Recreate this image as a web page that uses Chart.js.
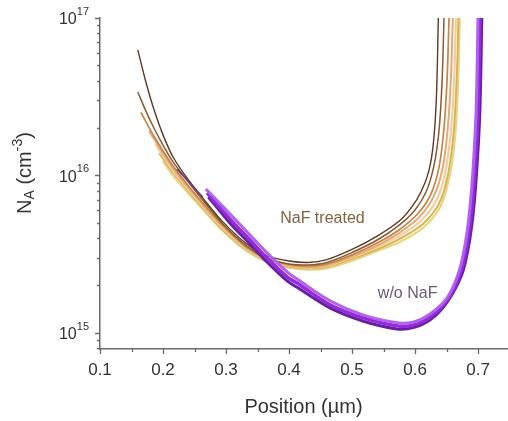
<!DOCTYPE html>
<html>
<head>
<meta charset="utf-8">
<script src="https://cdn.jsdelivr.net/npm/chart.js@4.4.0/dist/chart.umd.min.js"></script>
<style>
  html, body { margin: 0; padding: 0; background: #fff; }
</style>
</head>
<body>
<canvas id="myChart" width="508" height="421"></canvas>
<script>
// NaF treated curves (position in um, N_A in cm^-3)
const naf1X = [0.160, 0.172, 0.184, 0.200, 0.216, 0.238, 0.263, 0.295, 0.333, 0.365, 0.400, 0.430, 0.460, 0.500, 0.540, 0.575, 0.595, 0.610, 0.622, 0.629, 0.634, 0.637];
const naf1Y = [6.27e16, 4.04e16, 2.75e16, 1.81e16, 1.31e16, 9.64e15, 7.20e15, 5.07e15, 3.67e15, 3.08e15, 2.86e15, 2.80e15, 2.92e15, 3.39e15, 4.12e15, 5.13e15, 6.31e15, 7.94e15, 1.07e16, 1.58e16, 3.16e16, 1e17];
const naf2X = [0.160, 0.172, 0.184, 0.200, 0.216, 0.238, 0.263, 0.295, 0.333, 0.365, 0.400, 0.430, 0.460, 0.500, 0.540, 0.575, 0.600, 0.618, 0.630, 0.638, 0.643, 0.646];
const naf2Y = [3.39e16, 2.61e16, 2.06e16, 1.56e16, 1.22e16, 9.35e15, 6.98e15, 4.92e15, 3.56e15, 2.99e15, 2.74e15, 2.70e15, 2.80e15, 3.24e15, 3.89e15, 4.84e15, 6.03e15, 7.94e15, 1.15e16, 1.91e16, 3.98e16, 1e17];
const naf3X = [0.165, 0.184, 0.216, 0.263, 0.295, 0.333, 0.365, 0.400, 0.430, 0.460, 0.500, 0.540, 0.575, 0.605, 0.625, 0.638, 0.646, 0.651, 0.654];
const naf3Y = [2.51e16, 1.82e16, 1.15e16, 6.68e15, 4.84e15, 3.51e15, 2.97e15, 2.72e15, 2.66e15, 2.74e15, 3.13e15, 3.72e15, 4.52e15, 5.75e15, 7.59e15, 1.12e16, 2.00e16, 4.17e16, 1e17];
const naf4X = [0.178, 0.216, 0.263, 0.295, 0.333, 0.365, 0.400, 0.430, 0.460, 0.500, 0.540, 0.575, 0.608, 0.630, 0.644, 0.652, 0.657, 0.660];
const naf4Y = [1.91e16, 1.11e16, 6.53e15, 4.73e15, 3.45e15, 2.92e15, 2.69e15, 2.62e15, 2.69e15, 3.05e15, 3.59e15, 4.32e15, 5.50e15, 7.41e15, 1.12e16, 2.00e16, 4.17e16, 1e17];
const naf5X = [0.188, 0.216, 0.263, 0.295, 0.333, 0.365, 0.400, 0.430, 0.460, 0.500, 0.540, 0.575, 0.610, 0.635, 0.648, 0.657, 0.662, 0.665];
const naf5Y = [1.58e16, 1.07e16, 6.38e15, 4.62e15, 3.40e15, 2.88e15, 2.67e15, 2.60e15, 2.66e15, 3.01e15, 3.51e15, 4.12e15, 5.19e15, 7.08e15, 1.05e16, 1.91e16, 3.98e16, 1e17];
const naf6X = [0.194, 0.216, 0.263, 0.295, 0.333, 0.365, 0.400, 0.430, 0.460, 0.500, 0.540, 0.575, 0.612, 0.638, 0.652, 0.661, 0.666, 0.669];
const naf6Y = [1.38e16, 1.04e16, 6.24e15, 4.52e15, 3.36e15, 2.85e15, 2.63e15, 2.56e15, 2.62e15, 2.95e15, 3.39e15, 3.94e15, 4.90e15, 6.61e15, 1.00e16, 1.82e16, 3.98e16, 1e17];
const naf7X = [0.200, 0.216, 0.263, 0.295, 0.333, 0.365, 0.400, 0.430, 0.460, 0.500, 0.540, 0.575, 0.612, 0.640, 0.654, 0.663, 0.668, 0.671];
const naf7Y = [1.23e16, 1.00e16, 6.10e15, 4.45e15, 3.31e15, 2.82e15, 2.60e15, 2.52e15, 2.57e15, 2.88e15, 3.31e15, 3.76e15, 4.62e15, 6.31e15, 9.55e15, 1.66e16, 3.55e16, 1e17];

// w/o NaF curves
const ref0X = [0.222, 0.238, 0.263];
const ref0Y = [1.10e16, 9.35e15, 7.30e15];
const ref1X = [0.270, 0.306, 0.338, 0.365, 0.397, 0.417, 0.465, 0.517, 0.571, 0.597, 0.624, 0.651, 0.671, 0.681, 0.689, 0.695, 0.700, 0.703];
const ref1Y = [7.74e15, 5.30e15, 3.89e15, 2.99e15, 2.27e15, 2.02e15, 1.51e15, 1.25e15, 1.11e15, 1.12e15, 1.26e15, 1.62e15, 2.33e15, 3.37e15, 5.61e15, 1.08e16, 2.61e16, 1e17];
const ref2X = [0.268, 0.306, 0.338, 0.365, 0.397, 0.417, 0.465, 0.517, 0.571, 0.597, 0.624, 0.651, 0.668, 0.678, 0.686, 0.692, 0.697, 0.700];
const ref2Y = [8.21e15, 5.70e15, 4.19e15, 3.22e15, 2.44e15, 2.14e15, 1.60e15, 1.30e15, 1.16e15, 1.17e15, 1.32e15, 1.67e15, 2.33e15, 3.37e15, 5.61e15, 1.08e16, 2.61e16, 1e17];
const ref3X = [0.272, 0.306, 0.338, 0.365, 0.397, 0.417, 0.465, 0.517, 0.571, 0.597, 0.624, 0.651, 0.674, 0.684, 0.692, 0.698, 0.703, 0.706];
const ref3Y = [7.30e15, 4.99e15, 3.67e15, 2.82e15, 2.14e15, 1.90e15, 1.44e15, 1.19e15, 1.06e15, 1.08e15, 1.21e15, 1.57e15, 2.33e15, 3.37e15, 5.61e15, 1.08e16, 2.61e16, 1e17];

// ticks
const xMajorTicks = [0.1, 0.2, 0.3, 0.4, 0.5, 0.6, 0.7];
const xMinorTicks = [0.15, 0.25, 0.35, 0.45, 0.55, 0.65];
const yMajorTicks = [1e15, 1e16, 1e17];
const yMinorTicks = [8e14, 9e14, 2e15, 3e15, 4e15, 5e15, 6e15, 7e15, 8e15, 9e15, 2e16, 3e16, 4e16, 5e16, 6e16, 7e16, 8e16, 9e16];

// text labels in the plot
const noteTexts = ['NaF treated', 'w/o NaF'];
const noteX = [0.386, 0.541];
const noteY = [5.3e15, 1.77e15];
const noteColors = ['#86623f', '#6a5c78'];

const FONT = '"Liberation Sans", Arial, sans-serif';

function pares(xs, ys) {
    return xs.map((x, i) => ({ x: x, y: ys[i] }));
}

function serie(xs, ys, color, width) {
    return {
        data: pares(xs, ys),
        borderColor: color,
        borderWidth: width,
        pointRadius: 0,
        fill: false,
        tension: 0.3
    };
}

// axes, tick marks, labels and titles
const ejes = {
    id: 'ejes',
    afterDraw(chart) {
        const c = chart.ctx;
        const xs = chart.scales.x;
        const ys = chart.scales.y;
        const a = chart.chartArea;
        c.save();
        c.strokeStyle = '#6b6b6b';
        c.lineWidth = 1.3;
        c.beginPath();
        for (const v of yMajorTicks) {
            const p = Math.round(ys.getPixelForValue(v)) + 0.5;
            c.moveTo(a.left - 5, p); c.lineTo(a.left, p);
        }
        for (const v of yMinorTicks) {
            const p = Math.round(ys.getPixelForValue(v)) + 0.5;
            c.moveTo(a.left - 3, p); c.lineTo(a.left, p);
        }
        for (const v of xMajorTicks) {
            const p = Math.round(xs.getPixelForValue(v)) + 0.5;
            c.moveTo(p, a.bottom); c.lineTo(p, a.bottom + 5);
        }
        for (const v of xMinorTicks) {
            const p = Math.round(xs.getPixelForValue(v)) + 0.5;
            c.moveTo(p, a.bottom); c.lineTo(p, a.bottom + 3);
        }
        c.stroke();

        c.fillStyle = '#333';
        // x tick labels
        c.font = '17px ' + FONT;
        c.textAlign = 'center';
        c.textBaseline = 'middle';
        for (const v of xMajorTicks) {
            c.fillText(v.toFixed(1), xs.getPixelForValue(v), a.bottom + 21);
        }
        // y tick labels 10^n
        for (const v of yMajorTicks) {
            const exp = String(Math.round(Math.log10(v)));
            const p = ys.getPixelForValue(v);
            c.font = '11px ' + FONT;
            const wSup = c.measureText(exp).width;
            const right = a.left - 11;
            c.textAlign = 'left';
            c.fillText(exp, right - wSup, p - 6);
            c.font = '16px ' + FONT;
            c.textAlign = 'right';
            c.fillText('10', right - wSup, p + 2);
        }

        // x title
        c.font = '20px ' + FONT;
        c.textAlign = 'center';
        c.fillText('Position (\u00b5m)', (a.left + a.right) / 2, 407);

        // y title N_A (cm^-3)
        c.save();
        c.translate(25, 173);
        c.rotate(-Math.PI / 2);
        const parts = [
            { t: 'N', f: '20px ', dy: 0 },
            { t: 'A', f: '14px ', dy: 5 },
            { t: ' (cm', f: '20px ', dy: 0 },
            { t: '-3', f: '14px ', dy: -7 },
            { t: ')', f: '20px ', dy: 0 }
        ];
        let total = 0;
        for (const p of parts) { c.font = p.f + FONT; total += c.measureText(p.t).width; }
        let px = -total / 2;
        c.textAlign = 'left';
        for (const p of parts) {
            c.font = p.f + FONT;
            c.fillText(p.t, px, p.dy);
            px += c.measureText(p.t).width;
        }
        c.restore();

        // notes inside the plot
        c.font = '16px ' + FONT;
        c.textAlign = 'left';
        noteTexts.forEach((t, i) => {
            c.fillStyle = noteColors[i];
            c.fillText(t, xs.getPixelForValue(noteX[i]), ys.getPixelForValue(noteY[i]));
        });
        c.restore();
    }
};

const datasets = [
    serie(ref2X, ref2Y, '#b45ff2', 3),
    serie(ref1X, ref1Y, '#8f2ed8', 3.5),
    serie(ref3X, ref3Y, '#6c1ca4', 3),
    serie(ref0X, ref0Y, '#6b3d86', 1.5),
    serie(naf1X, naf1Y, '#5e3a22', 1.4),
    serie(naf2X, naf2Y, '#8b5a2f', 1.5),
    serie(naf3X, naf3Y, '#c6844a', 1.7),
    serie(naf4X, naf4Y, '#e2ab72', 2),
    serie(naf5X, naf5Y, '#f2cda4', 2.2),
    serie(naf6X, naf6Y, '#d7b44a', 1.9),
    serie(naf7X, naf7Y, '#ebd585', 2.3)
];

new Chart(document.getElementById('myChart'), {
    type: 'line',
    data: { datasets: datasets },
    options: {
        responsive: false,
        animation: false,
        layout: { padding: { top: 18, right: 1, left: 0, bottom: 0 } },
        plugins: { legend: { display: false }, tooltip: { enabled: false } },
        scales: {
            x: {
                type: 'linear',
                min: 0.1,
                max: 0.746,
                grid: { display: false },
                ticks: { display: false },
                border: { display: true, color: '#6b6b6b', width: 1.5 },
                afterFit(s) { s.height = 72; }
            },
            y: {
                type: 'logarithmic',
                min: 7.9e14,
                max: 1e17,
                grid: { display: false },
                ticks: { display: false },
                border: { display: true, color: '#6b6b6b', width: 1.5 },
                afterFit(s) { s.width = 100; }
            }
        }
    },
    plugins: [ejes]
});
</script>
</body>
</html>
